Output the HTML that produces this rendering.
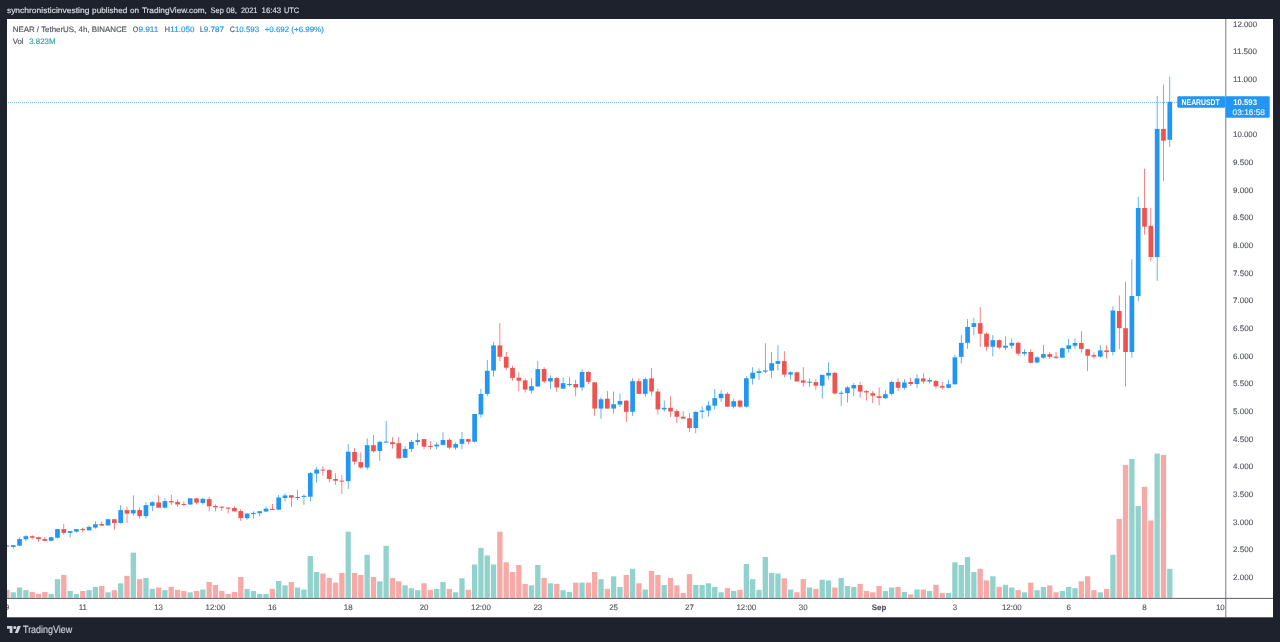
<!DOCTYPE html>
<html><head><meta charset="utf-8"><title>NEAR / TetherUS chart</title>
<style>html,body{margin:0;padding:0;background:#1e222d;}body{width:1280px;height:642px;overflow:hidden;}svg{display:block;}</style></head>
<body>
<svg width="1280" height="642" viewBox="0 0 1280 642" text-rendering="geometricPrecision" font-family='"Liberation Sans", Arial, sans-serif'>
<rect width="1280" height="642" fill="#1e222d"/>
<rect x="7" y="19" width="1266" height="598.3" fill="#ffffff"/>
<defs><clipPath id="cp"><rect x="7" y="19" width="1218.9" height="579.3"/></clipPath><clipPath id="ct"><rect x="7" y="598.3" width="1218.9" height="19.0"/></clipPath></defs>
<g clip-path="url(#cp)" shape-rendering="auto">
<rect x="4.27" y="589.80" width="5.3" height="8.10" fill="#f7a9a7"/>
<rect x="10.59" y="592.30" width="5.3" height="5.60" fill="#92d2cc"/>
<rect x="16.91" y="587.50" width="5.3" height="10.40" fill="#92d2cc"/>
<rect x="23.23" y="590.15" width="5.3" height="7.75" fill="#92d2cc"/>
<rect x="29.55" y="591.90" width="5.3" height="6.00" fill="#f7a9a7"/>
<rect x="35.87" y="593.90" width="5.3" height="4.00" fill="#f7a9a7"/>
<rect x="42.19" y="591.90" width="5.3" height="6.00" fill="#f7a9a7"/>
<rect x="48.51" y="593.90" width="5.3" height="4.00" fill="#92d2cc"/>
<rect x="54.83" y="579.15" width="5.3" height="18.75" fill="#92d2cc"/>
<rect x="61.15" y="575.00" width="5.3" height="22.90" fill="#f7a9a7"/>
<rect x="67.47" y="591.00" width="5.3" height="6.90" fill="#92d2cc"/>
<rect x="73.79" y="593.90" width="5.3" height="4.00" fill="#92d2cc"/>
<rect x="80.11" y="591.00" width="5.3" height="6.90" fill="#f7a9a7"/>
<rect x="86.43" y="590.15" width="5.3" height="7.75" fill="#92d2cc"/>
<rect x="92.75" y="586.90" width="5.3" height="11.00" fill="#92d2cc"/>
<rect x="99.07" y="586.00" width="5.3" height="11.90" fill="#f7a9a7"/>
<rect x="105.39" y="592.30" width="5.3" height="5.60" fill="#92d2cc"/>
<rect x="111.71" y="590.15" width="5.3" height="7.75" fill="#f7a9a7"/>
<rect x="118.03" y="583.30" width="5.3" height="14.60" fill="#92d2cc"/>
<rect x="124.35" y="575.80" width="5.3" height="22.10" fill="#f7a9a7"/>
<rect x="130.67" y="552.65" width="5.3" height="45.25" fill="#92d2cc"/>
<rect x="136.99" y="579.15" width="5.3" height="18.75" fill="#f7a9a7"/>
<rect x="143.31" y="577.90" width="5.3" height="20.00" fill="#92d2cc"/>
<rect x="149.63" y="588.90" width="5.3" height="9.00" fill="#92d2cc"/>
<rect x="155.95" y="587.50" width="5.3" height="10.40" fill="#f7a9a7"/>
<rect x="162.27" y="590.15" width="5.3" height="7.75" fill="#92d2cc"/>
<rect x="168.59" y="586.90" width="5.3" height="11.00" fill="#f7a9a7"/>
<rect x="174.91" y="589.80" width="5.3" height="8.10" fill="#f7a9a7"/>
<rect x="181.23" y="591.00" width="5.3" height="6.90" fill="#f7a9a7"/>
<rect x="187.55" y="592.30" width="5.3" height="5.60" fill="#92d2cc"/>
<rect x="193.87" y="591.00" width="5.3" height="6.90" fill="#f7a9a7"/>
<rect x="200.19" y="589.50" width="5.3" height="8.40" fill="#92d2cc"/>
<rect x="206.51" y="582.00" width="5.3" height="15.90" fill="#f7a9a7"/>
<rect x="212.83" y="585.00" width="5.3" height="12.90" fill="#f7a9a7"/>
<rect x="219.15" y="591.00" width="5.3" height="6.90" fill="#f7a9a7"/>
<rect x="225.47" y="593.90" width="5.3" height="4.00" fill="#f7a9a7"/>
<rect x="231.79" y="591.90" width="5.3" height="6.00" fill="#f7a9a7"/>
<rect x="238.11" y="577.00" width="5.3" height="20.90" fill="#f7a9a7"/>
<rect x="244.43" y="588.90" width="5.3" height="9.00" fill="#92d2cc"/>
<rect x="250.75" y="591.00" width="5.3" height="6.90" fill="#92d2cc"/>
<rect x="257.07" y="593.90" width="5.3" height="4.00" fill="#92d2cc"/>
<rect x="263.39" y="593.90" width="5.3" height="4.00" fill="#92d2cc"/>
<rect x="269.71" y="588.90" width="5.3" height="9.00" fill="#f7a9a7"/>
<rect x="276.03" y="581.00" width="5.3" height="16.90" fill="#92d2cc"/>
<rect x="282.35" y="585.40" width="5.3" height="12.50" fill="#92d2cc"/>
<rect x="288.67" y="582.00" width="5.3" height="15.90" fill="#f7a9a7"/>
<rect x="294.99" y="587.50" width="5.3" height="10.40" fill="#92d2cc"/>
<rect x="301.31" y="589.50" width="5.3" height="8.40" fill="#92d2cc"/>
<rect x="307.63" y="556.00" width="5.3" height="41.90" fill="#92d2cc"/>
<rect x="313.95" y="572.00" width="5.3" height="25.90" fill="#92d2cc"/>
<rect x="320.27" y="573.50" width="5.3" height="24.40" fill="#f7a9a7"/>
<rect x="326.59" y="577.90" width="5.3" height="20.00" fill="#f7a9a7"/>
<rect x="332.91" y="582.65" width="5.3" height="15.25" fill="#f7a9a7"/>
<rect x="339.23" y="572.90" width="5.3" height="25.00" fill="#f7a9a7"/>
<rect x="345.55" y="531.65" width="5.3" height="66.25" fill="#92d2cc"/>
<rect x="351.87" y="572.90" width="5.3" height="25.00" fill="#f7a9a7"/>
<rect x="358.19" y="575.00" width="5.3" height="22.90" fill="#f7a9a7"/>
<rect x="364.51" y="554.80" width="5.3" height="43.10" fill="#92d2cc"/>
<rect x="370.83" y="577.00" width="5.3" height="20.90" fill="#f7a9a7"/>
<rect x="377.15" y="581.30" width="5.3" height="16.60" fill="#92d2cc"/>
<rect x="383.47" y="545.80" width="5.3" height="52.10" fill="#92d2cc"/>
<rect x="389.79" y="577.90" width="5.3" height="20.00" fill="#f7a9a7"/>
<rect x="396.11" y="581.30" width="5.3" height="16.60" fill="#f7a9a7"/>
<rect x="402.43" y="585.40" width="5.3" height="12.50" fill="#92d2cc"/>
<rect x="408.75" y="588.30" width="5.3" height="9.60" fill="#92d2cc"/>
<rect x="415.07" y="590.15" width="5.3" height="7.75" fill="#92d2cc"/>
<rect x="421.39" y="583.30" width="5.3" height="14.60" fill="#f7a9a7"/>
<rect x="427.71" y="589.80" width="5.3" height="8.10" fill="#f7a9a7"/>
<rect x="434.03" y="588.90" width="5.3" height="9.00" fill="#92d2cc"/>
<rect x="440.35" y="582.00" width="5.3" height="15.90" fill="#92d2cc"/>
<rect x="446.67" y="588.90" width="5.3" height="9.00" fill="#f7a9a7"/>
<rect x="452.99" y="592.30" width="5.3" height="5.60" fill="#92d2cc"/>
<rect x="459.31" y="578.30" width="5.3" height="19.60" fill="#92d2cc"/>
<rect x="465.63" y="589.80" width="5.3" height="8.10" fill="#f7a9a7"/>
<rect x="471.95" y="564.50" width="5.3" height="33.40" fill="#92d2cc"/>
<rect x="478.27" y="547.90" width="5.3" height="50.00" fill="#92d2cc"/>
<rect x="484.59" y="555.40" width="5.3" height="42.50" fill="#92d2cc"/>
<rect x="490.91" y="564.50" width="5.3" height="33.40" fill="#92d2cc"/>
<rect x="497.23" y="531.65" width="5.3" height="66.25" fill="#f7a9a7"/>
<rect x="503.55" y="562.30" width="5.3" height="35.60" fill="#f7a9a7"/>
<rect x="509.87" y="572.00" width="5.3" height="25.90" fill="#f7a9a7"/>
<rect x="516.19" y="565.00" width="5.3" height="32.90" fill="#f7a9a7"/>
<rect x="522.51" y="583.90" width="5.3" height="14.00" fill="#f7a9a7"/>
<rect x="528.83" y="585.40" width="5.3" height="12.50" fill="#92d2cc"/>
<rect x="535.15" y="565.00" width="5.3" height="32.90" fill="#92d2cc"/>
<rect x="541.47" y="577.90" width="5.3" height="20.00" fill="#f7a9a7"/>
<rect x="547.79" y="583.30" width="5.3" height="14.60" fill="#92d2cc"/>
<rect x="554.11" y="583.90" width="5.3" height="14.00" fill="#f7a9a7"/>
<rect x="560.43" y="590.15" width="5.3" height="7.75" fill="#92d2cc"/>
<rect x="566.75" y="591.90" width="5.3" height="6.00" fill="#92d2cc"/>
<rect x="573.07" y="582.65" width="5.3" height="15.25" fill="#f7a9a7"/>
<rect x="579.39" y="582.65" width="5.3" height="15.25" fill="#92d2cc"/>
<rect x="585.71" y="582.65" width="5.3" height="15.25" fill="#f7a9a7"/>
<rect x="592.03" y="572.00" width="5.3" height="25.90" fill="#f7a9a7"/>
<rect x="598.35" y="579.15" width="5.3" height="18.75" fill="#92d2cc"/>
<rect x="604.67" y="588.90" width="5.3" height="9.00" fill="#f7a9a7"/>
<rect x="610.99" y="576.30" width="5.3" height="21.60" fill="#92d2cc"/>
<rect x="617.31" y="586.90" width="5.3" height="11.00" fill="#92d2cc"/>
<rect x="623.63" y="575.00" width="5.3" height="22.90" fill="#f7a9a7"/>
<rect x="629.95" y="568.80" width="5.3" height="29.10" fill="#92d2cc"/>
<rect x="636.27" y="583.30" width="5.3" height="14.60" fill="#f7a9a7"/>
<rect x="642.59" y="589.50" width="5.3" height="8.40" fill="#92d2cc"/>
<rect x="648.91" y="571.00" width="5.3" height="26.90" fill="#f7a9a7"/>
<rect x="655.23" y="575.00" width="5.3" height="22.90" fill="#f7a9a7"/>
<rect x="661.55" y="585.00" width="5.3" height="12.90" fill="#92d2cc"/>
<rect x="667.87" y="577.90" width="5.3" height="20.00" fill="#f7a9a7"/>
<rect x="674.19" y="585.40" width="5.3" height="12.50" fill="#f7a9a7"/>
<rect x="680.51" y="592.90" width="5.3" height="5.00" fill="#f7a9a7"/>
<rect x="686.83" y="574.15" width="5.3" height="23.75" fill="#f7a9a7"/>
<rect x="693.15" y="585.00" width="5.3" height="12.90" fill="#92d2cc"/>
<rect x="699.47" y="585.00" width="5.3" height="12.90" fill="#92d2cc"/>
<rect x="705.79" y="583.30" width="5.3" height="14.60" fill="#92d2cc"/>
<rect x="712.11" y="586.90" width="5.3" height="11.00" fill="#92d2cc"/>
<rect x="718.43" y="592.30" width="5.3" height="5.60" fill="#92d2cc"/>
<rect x="724.75" y="588.15" width="5.3" height="9.75" fill="#f7a9a7"/>
<rect x="731.07" y="591.00" width="5.3" height="6.90" fill="#92d2cc"/>
<rect x="737.39" y="589.80" width="5.3" height="8.10" fill="#f7a9a7"/>
<rect x="743.71" y="563.90" width="5.3" height="34.00" fill="#92d2cc"/>
<rect x="750.03" y="579.15" width="5.3" height="18.75" fill="#92d2cc"/>
<rect x="756.35" y="589.80" width="5.3" height="8.10" fill="#92d2cc"/>
<rect x="762.67" y="557.00" width="5.3" height="40.90" fill="#92d2cc"/>
<rect x="768.99" y="572.90" width="5.3" height="25.00" fill="#92d2cc"/>
<rect x="775.31" y="573.50" width="5.3" height="24.40" fill="#92d2cc"/>
<rect x="781.63" y="578.30" width="5.3" height="19.60" fill="#f7a9a7"/>
<rect x="787.95" y="589.50" width="5.3" height="8.40" fill="#92d2cc"/>
<rect x="794.27" y="592.30" width="5.3" height="5.60" fill="#f7a9a7"/>
<rect x="800.59" y="579.15" width="5.3" height="18.75" fill="#f7a9a7"/>
<rect x="806.91" y="587.50" width="5.3" height="10.40" fill="#92d2cc"/>
<rect x="813.23" y="588.90" width="5.3" height="9.00" fill="#f7a9a7"/>
<rect x="819.55" y="579.80" width="5.3" height="18.10" fill="#92d2cc"/>
<rect x="825.87" y="580.40" width="5.3" height="17.50" fill="#92d2cc"/>
<rect x="832.19" y="587.50" width="5.3" height="10.40" fill="#f7a9a7"/>
<rect x="838.51" y="577.90" width="5.3" height="20.00" fill="#92d2cc"/>
<rect x="844.83" y="586.00" width="5.3" height="11.90" fill="#92d2cc"/>
<rect x="851.15" y="586.90" width="5.3" height="11.00" fill="#92d2cc"/>
<rect x="857.47" y="583.90" width="5.3" height="14.00" fill="#f7a9a7"/>
<rect x="863.79" y="591.00" width="5.3" height="6.90" fill="#f7a9a7"/>
<rect x="870.11" y="592.30" width="5.3" height="5.60" fill="#f7a9a7"/>
<rect x="876.43" y="586.00" width="5.3" height="11.90" fill="#f7a9a7"/>
<rect x="882.75" y="591.00" width="5.3" height="6.90" fill="#92d2cc"/>
<rect x="889.07" y="587.50" width="5.3" height="10.40" fill="#92d2cc"/>
<rect x="895.39" y="586.90" width="5.3" height="11.00" fill="#f7a9a7"/>
<rect x="901.71" y="591.90" width="5.3" height="6.00" fill="#92d2cc"/>
<rect x="908.03" y="594.40" width="5.3" height="3.50" fill="#f7a9a7"/>
<rect x="914.35" y="589.50" width="5.3" height="8.40" fill="#92d2cc"/>
<rect x="920.67" y="589.50" width="5.3" height="8.40" fill="#f7a9a7"/>
<rect x="926.99" y="591.00" width="5.3" height="6.90" fill="#92d2cc"/>
<rect x="933.31" y="584.80" width="5.3" height="13.10" fill="#f7a9a7"/>
<rect x="939.63" y="592.90" width="5.3" height="5.00" fill="#f7a9a7"/>
<rect x="945.95" y="592.90" width="5.3" height="5.00" fill="#92d2cc"/>
<rect x="952.27" y="562.30" width="5.3" height="35.60" fill="#92d2cc"/>
<rect x="958.59" y="565.00" width="5.3" height="32.90" fill="#92d2cc"/>
<rect x="964.91" y="557.00" width="5.3" height="40.90" fill="#92d2cc"/>
<rect x="971.23" y="572.00" width="5.3" height="25.90" fill="#92d2cc"/>
<rect x="977.55" y="568.80" width="5.3" height="29.10" fill="#f7a9a7"/>
<rect x="983.87" y="580.40" width="5.3" height="17.50" fill="#f7a9a7"/>
<rect x="990.19" y="576.30" width="5.3" height="21.60" fill="#92d2cc"/>
<rect x="996.51" y="586.90" width="5.3" height="11.00" fill="#f7a9a7"/>
<rect x="1002.83" y="584.80" width="5.3" height="13.10" fill="#92d2cc"/>
<rect x="1009.15" y="587.50" width="5.3" height="10.40" fill="#92d2cc"/>
<rect x="1015.47" y="590.15" width="5.3" height="7.75" fill="#f7a9a7"/>
<rect x="1021.79" y="592.30" width="5.3" height="5.60" fill="#92d2cc"/>
<rect x="1028.11" y="582.65" width="5.3" height="15.25" fill="#f7a9a7"/>
<rect x="1034.43" y="590.15" width="5.3" height="7.75" fill="#92d2cc"/>
<rect x="1040.75" y="586.90" width="5.3" height="11.00" fill="#92d2cc"/>
<rect x="1047.07" y="585.40" width="5.3" height="12.50" fill="#f7a9a7"/>
<rect x="1053.39" y="592.30" width="5.3" height="5.60" fill="#f7a9a7"/>
<rect x="1059.71" y="591.00" width="5.3" height="6.90" fill="#92d2cc"/>
<rect x="1066.03" y="586.90" width="5.3" height="11.00" fill="#92d2cc"/>
<rect x="1072.35" y="588.15" width="5.3" height="9.75" fill="#92d2cc"/>
<rect x="1078.67" y="581.30" width="5.3" height="16.60" fill="#f7a9a7"/>
<rect x="1084.99" y="576.30" width="5.3" height="21.60" fill="#f7a9a7"/>
<rect x="1091.31" y="590.15" width="5.3" height="7.75" fill="#f7a9a7"/>
<rect x="1097.63" y="592.30" width="5.3" height="5.60" fill="#92d2cc"/>
<rect x="1103.95" y="588.90" width="5.3" height="9.00" fill="#f7a9a7"/>
<rect x="1110.27" y="554.80" width="5.3" height="43.10" fill="#92d2cc"/>
<rect x="1116.59" y="518.90" width="5.3" height="79.00" fill="#f7a9a7"/>
<rect x="1122.91" y="465.00" width="5.3" height="132.90" fill="#f7a9a7"/>
<rect x="1129.23" y="459.00" width="5.3" height="138.90" fill="#92d2cc"/>
<rect x="1135.55" y="506.00" width="5.3" height="91.90" fill="#92d2cc"/>
<rect x="1141.87" y="486.80" width="5.3" height="111.10" fill="#f7a9a7"/>
<rect x="1148.19" y="520.50" width="5.3" height="77.40" fill="#f7a9a7"/>
<rect x="1154.51" y="453.50" width="5.3" height="144.40" fill="#92d2cc"/>
<rect x="1160.83" y="454.90" width="5.3" height="143.00" fill="#f7a9a7"/>
<rect x="1167.15" y="568.80" width="5.3" height="29.10" fill="#92d2cc"/>
<line x1="6" y1="102.4" x2="1177" y2="102.4" stroke="#2196f3" stroke-width="0.9" stroke-dasharray="0.75 1.25" opacity="0.95"/>
<rect x="6.57" y="545.66" width="0.7" height="0.81" fill="#ef5350"/>
<rect x="4.57" y="545.56" width="4.7" height="1.00" fill="#ef5350"/>
<rect x="12.89" y="544.84" width="0.7" height="3.86" fill="#2196f3"/>
<rect x="10.89" y="545.15" width="4.7" height="1.73" fill="#2196f3"/>
<rect x="19.21" y="537.53" width="0.7" height="8.33" fill="#2196f3"/>
<rect x="17.21" y="539.06" width="4.7" height="6.60" fill="#2196f3"/>
<rect x="25.53" y="535.20" width="0.7" height="6.09" fill="#2196f3"/>
<rect x="23.53" y="536.21" width="4.7" height="3.05" fill="#2196f3"/>
<rect x="31.85" y="535.20" width="0.7" height="4.06" fill="#ef5350"/>
<rect x="29.85" y="536.21" width="4.7" height="1.52" fill="#ef5350"/>
<rect x="38.17" y="536.72" width="0.7" height="5.08" fill="#ef5350"/>
<rect x="36.17" y="537.23" width="4.7" height="1.83" fill="#ef5350"/>
<rect x="44.49" y="536.72" width="0.7" height="4.57" fill="#ef5350"/>
<rect x="42.49" y="539.06" width="4.7" height="1.73" fill="#ef5350"/>
<rect x="50.81" y="536.92" width="0.7" height="4.37" fill="#2196f3"/>
<rect x="48.81" y="537.23" width="4.7" height="3.55" fill="#2196f3"/>
<rect x="57.13" y="528.90" width="0.7" height="9.65" fill="#2196f3"/>
<rect x="55.13" y="529.10" width="4.7" height="8.63" fill="#2196f3"/>
<rect x="63.45" y="524.02" width="0.7" height="10.87" fill="#ef5350"/>
<rect x="61.45" y="529.10" width="4.7" height="3.76" fill="#ef5350"/>
<rect x="69.77" y="531.13" width="0.7" height="6.40" fill="#2196f3"/>
<rect x="67.77" y="531.13" width="4.7" height="1.73" fill="#2196f3"/>
<rect x="76.09" y="529.10" width="0.7" height="3.55" fill="#2196f3"/>
<rect x="74.09" y="529.10" width="4.7" height="2.54" fill="#2196f3"/>
<rect x="82.41" y="527.58" width="0.7" height="4.57" fill="#ef5350"/>
<rect x="80.41" y="528.90" width="4.7" height="1.22" fill="#ef5350"/>
<rect x="88.73" y="525.55" width="0.7" height="5.08" fill="#2196f3"/>
<rect x="86.73" y="526.87" width="4.7" height="3.45" fill="#2196f3"/>
<rect x="95.05" y="521.28" width="0.7" height="7.31" fill="#2196f3"/>
<rect x="93.05" y="524.23" width="4.7" height="3.35" fill="#2196f3"/>
<rect x="101.37" y="521.28" width="0.7" height="4.77" fill="#ef5350"/>
<rect x="99.37" y="524.02" width="4.7" height="1.52" fill="#ef5350"/>
<rect x="107.69" y="518.95" width="0.7" height="6.80" fill="#2196f3"/>
<rect x="105.69" y="519.25" width="4.7" height="6.09" fill="#2196f3"/>
<rect x="114.01" y="518.95" width="0.7" height="10.66" fill="#ef5350"/>
<rect x="112.01" y="519.25" width="4.7" height="3.76" fill="#ef5350"/>
<rect x="120.33" y="505.23" width="0.7" height="18.28" fill="#2196f3"/>
<rect x="118.33" y="510.11" width="4.7" height="12.90" fill="#2196f3"/>
<rect x="126.65" y="506.76" width="0.7" height="16.25" fill="#ef5350"/>
<rect x="124.65" y="510.11" width="4.7" height="3.45" fill="#ef5350"/>
<rect x="132.97" y="495.31" width="0.7" height="20.31" fill="#2196f3"/>
<rect x="130.97" y="510.04" width="4.7" height="3.35" fill="#2196f3"/>
<rect x="139.29" y="507.50" width="0.7" height="11.17" fill="#ef5350"/>
<rect x="137.29" y="510.04" width="4.7" height="6.09" fill="#ef5350"/>
<rect x="145.61" y="502.22" width="0.7" height="16.45" fill="#2196f3"/>
<rect x="143.61" y="505.16" width="4.7" height="10.97" fill="#2196f3"/>
<rect x="151.93" y="501.20" width="0.7" height="9.85" fill="#2196f3"/>
<rect x="149.93" y="502.22" width="4.7" height="3.55" fill="#2196f3"/>
<rect x="158.25" y="495.31" width="0.7" height="12.39" fill="#ef5350"/>
<rect x="156.25" y="502.42" width="4.7" height="5.28" fill="#ef5350"/>
<rect x="164.57" y="498.36" width="0.7" height="9.95" fill="#2196f3"/>
<rect x="162.57" y="501.10" width="4.7" height="6.60" fill="#2196f3"/>
<rect x="170.89" y="494.80" width="0.7" height="10.16" fill="#ef5350"/>
<rect x="168.89" y="501.10" width="4.7" height="1.32" fill="#ef5350"/>
<rect x="177.21" y="499.17" width="0.7" height="7.82" fill="#ef5350"/>
<rect x="175.21" y="501.91" width="4.7" height="2.54" fill="#ef5350"/>
<rect x="183.53" y="501.20" width="0.7" height="5.28" fill="#ef5350"/>
<rect x="181.53" y="503.95" width="4.7" height="1.02" fill="#ef5350"/>
<rect x="189.85" y="498.16" width="0.7" height="6.80" fill="#2196f3"/>
<rect x="187.85" y="498.36" width="4.7" height="6.09" fill="#2196f3"/>
<rect x="196.17" y="498.16" width="0.7" height="6.30" fill="#ef5350"/>
<rect x="194.17" y="498.36" width="4.7" height="4.27" fill="#ef5350"/>
<rect x="202.49" y="497.55" width="0.7" height="6.91" fill="#2196f3"/>
<rect x="200.49" y="498.87" width="4.7" height="4.06" fill="#2196f3"/>
<rect x="208.81" y="496.84" width="0.7" height="14.52" fill="#ef5350"/>
<rect x="206.81" y="499.07" width="4.7" height="7.21" fill="#ef5350"/>
<rect x="215.13" y="504.45" width="0.7" height="6.91" fill="#ef5350"/>
<rect x="213.13" y="505.98" width="4.7" height="1.32" fill="#ef5350"/>
<rect x="221.45" y="506.48" width="0.7" height="4.27" fill="#ef5350"/>
<rect x="219.45" y="506.69" width="4.7" height="1.02" fill="#ef5350"/>
<rect x="227.77" y="507.50" width="0.7" height="6.09" fill="#ef5350"/>
<rect x="225.77" y="507.61" width="4.7" height="1.00" fill="#ef5350"/>
<rect x="234.09" y="506.28" width="0.7" height="5.28" fill="#ef5350"/>
<rect x="232.09" y="508.01" width="4.7" height="3.35" fill="#ef5350"/>
<rect x="240.41" y="509.02" width="0.7" height="11.88" fill="#ef5350"/>
<rect x="238.41" y="511.06" width="4.7" height="7.11" fill="#ef5350"/>
<rect x="246.73" y="513.09" width="0.7" height="6.60" fill="#2196f3"/>
<rect x="244.73" y="513.59" width="4.7" height="4.57" fill="#2196f3"/>
<rect x="253.05" y="511.36" width="0.7" height="7.11" fill="#2196f3"/>
<rect x="251.05" y="512.88" width="4.7" height="1.22" fill="#2196f3"/>
<rect x="259.37" y="511.21" width="0.7" height="5.08" fill="#2196f3"/>
<rect x="257.37" y="511.21" width="4.7" height="2.03" fill="#2196f3"/>
<rect x="265.69" y="506.44" width="0.7" height="5.48" fill="#2196f3"/>
<rect x="263.69" y="508.67" width="4.7" height="2.84" fill="#2196f3"/>
<rect x="272.01" y="503.80" width="0.7" height="6.09" fill="#ef5350"/>
<rect x="270.01" y="508.88" width="4.7" height="1.02" fill="#ef5350"/>
<rect x="278.33" y="494.96" width="0.7" height="14.73" fill="#2196f3"/>
<rect x="276.33" y="497.50" width="4.7" height="12.19" fill="#2196f3"/>
<rect x="284.65" y="493.44" width="0.7" height="8.13" fill="#2196f3"/>
<rect x="282.65" y="495.47" width="4.7" height="2.54" fill="#2196f3"/>
<rect x="290.97" y="495.27" width="0.7" height="11.88" fill="#ef5350"/>
<rect x="288.97" y="495.27" width="4.7" height="2.44" fill="#ef5350"/>
<rect x="297.29" y="489.88" width="0.7" height="10.46" fill="#2196f3"/>
<rect x="295.29" y="496.99" width="4.7" height="1.02" fill="#2196f3"/>
<rect x="303.61" y="494.25" width="0.7" height="10.56" fill="#2196f3"/>
<rect x="301.61" y="495.88" width="4.7" height="1.00" fill="#2196f3"/>
<rect x="309.93" y="471.91" width="0.7" height="29.66" fill="#2196f3"/>
<rect x="307.93" y="473.13" width="4.7" height="23.56" fill="#2196f3"/>
<rect x="316.25" y="467.23" width="0.7" height="15.54" fill="#2196f3"/>
<rect x="314.25" y="469.57" width="4.7" height="4.06" fill="#2196f3"/>
<rect x="322.57" y="466.22" width="0.7" height="9.45" fill="#ef5350"/>
<rect x="320.57" y="469.57" width="4.7" height="1.02" fill="#ef5350"/>
<rect x="328.89" y="469.06" width="0.7" height="13.41" fill="#ef5350"/>
<rect x="326.89" y="470.08" width="4.7" height="8.94" fill="#ef5350"/>
<rect x="335.21" y="473.13" width="0.7" height="11.68" fill="#ef5350"/>
<rect x="333.21" y="479.02" width="4.7" height="1.73" fill="#ef5350"/>
<rect x="341.53" y="475.16" width="0.7" height="18.79" fill="#ef5350"/>
<rect x="339.53" y="480.60" width="4.7" height="1.00" fill="#ef5350"/>
<rect x="347.85" y="443.90" width="0.7" height="45.00" fill="#2196f3"/>
<rect x="345.85" y="451.70" width="4.7" height="29.40" fill="#2196f3"/>
<rect x="354.17" y="448.23" width="0.7" height="16.45" fill="#ef5350"/>
<rect x="352.17" y="451.99" width="4.7" height="9.65" fill="#ef5350"/>
<rect x="360.49" y="452.30" width="0.7" height="16.45" fill="#ef5350"/>
<rect x="358.49" y="462.15" width="4.7" height="5.38" fill="#ef5350"/>
<rect x="366.81" y="438.28" width="0.7" height="31.48" fill="#2196f3"/>
<rect x="364.81" y="445.19" width="4.7" height="22.34" fill="#2196f3"/>
<rect x="373.13" y="435.03" width="0.7" height="17.67" fill="#ef5350"/>
<rect x="371.13" y="445.19" width="4.7" height="6.09" fill="#ef5350"/>
<rect x="379.45" y="441.33" width="0.7" height="19.50" fill="#2196f3"/>
<rect x="377.45" y="441.84" width="4.7" height="9.14" fill="#2196f3"/>
<rect x="385.77" y="421.02" width="0.7" height="21.53" fill="#2196f3"/>
<rect x="383.77" y="441.53" width="4.7" height="1.02" fill="#2196f3"/>
<rect x="392.09" y="437.06" width="0.7" height="11.58" fill="#ef5350"/>
<rect x="390.09" y="442.14" width="4.7" height="2.03" fill="#ef5350"/>
<rect x="398.41" y="437.06" width="0.7" height="21.33" fill="#ef5350"/>
<rect x="396.41" y="443.16" width="4.7" height="15.23" fill="#ef5350"/>
<rect x="404.73" y="446.20" width="0.7" height="11.88" fill="#2196f3"/>
<rect x="402.73" y="448.95" width="4.7" height="8.84" fill="#2196f3"/>
<rect x="411.05" y="439.80" width="0.7" height="12.19" fill="#2196f3"/>
<rect x="409.05" y="441.84" width="4.7" height="7.11" fill="#2196f3"/>
<rect x="417.37" y="433.20" width="0.7" height="12.39" fill="#2196f3"/>
<rect x="415.37" y="440.11" width="4.7" height="1.93" fill="#2196f3"/>
<rect x="423.69" y="439.09" width="0.7" height="10.16" fill="#ef5350"/>
<rect x="421.69" y="439.09" width="4.7" height="7.52" fill="#ef5350"/>
<rect x="430.01" y="441.13" width="0.7" height="8.33" fill="#ef5350"/>
<rect x="428.01" y="445.91" width="4.7" height="1.00" fill="#ef5350"/>
<rect x="436.33" y="442.34" width="0.7" height="6.91" fill="#2196f3"/>
<rect x="434.33" y="444.68" width="4.7" height="1.73" fill="#2196f3"/>
<rect x="442.65" y="432.19" width="0.7" height="13.20" fill="#2196f3"/>
<rect x="440.65" y="440.01" width="4.7" height="4.88" fill="#2196f3"/>
<rect x="448.97" y="438.48" width="0.7" height="10.77" fill="#ef5350"/>
<rect x="446.97" y="439.80" width="4.7" height="7.82" fill="#ef5350"/>
<rect x="455.29" y="442.55" width="0.7" height="7.11" fill="#2196f3"/>
<rect x="453.29" y="444.07" width="4.7" height="3.55" fill="#2196f3"/>
<rect x="461.61" y="431.98" width="0.7" height="17.27" fill="#2196f3"/>
<rect x="459.61" y="439.09" width="4.7" height="4.77" fill="#2196f3"/>
<rect x="467.93" y="439.13" width="0.7" height="5.28" fill="#ef5350"/>
<rect x="465.93" y="439.13" width="4.7" height="2.54" fill="#ef5350"/>
<rect x="474.25" y="413.95" width="0.7" height="28.44" fill="#2196f3"/>
<rect x="472.25" y="413.95" width="4.7" height="27.73" fill="#2196f3"/>
<rect x="480.57" y="388.86" width="0.7" height="28.84" fill="#2196f3"/>
<rect x="478.57" y="393.94" width="4.7" height="20.52" fill="#2196f3"/>
<rect x="486.89" y="360.10" width="0.7" height="36.10" fill="#2196f3"/>
<rect x="484.89" y="370.80" width="4.7" height="23.10" fill="#2196f3"/>
<rect x="493.21" y="341.84" width="0.7" height="34.84" fill="#2196f3"/>
<rect x="491.21" y="345.39" width="4.7" height="25.19" fill="#2196f3"/>
<rect x="499.53" y="323.05" width="0.7" height="38.09" fill="#ef5350"/>
<rect x="497.53" y="345.39" width="4.7" height="11.38" fill="#ef5350"/>
<rect x="505.85" y="351.99" width="0.7" height="18.28" fill="#ef5350"/>
<rect x="503.85" y="356.77" width="4.7" height="10.97" fill="#ef5350"/>
<rect x="512.17" y="365.70" width="0.7" height="15.03" fill="#ef5350"/>
<rect x="510.17" y="367.94" width="4.7" height="9.95" fill="#ef5350"/>
<rect x="518.49" y="372.30" width="0.7" height="19.00" fill="#ef5350"/>
<rect x="516.49" y="377.70" width="4.7" height="3.00" fill="#ef5350"/>
<rect x="524.81" y="378.40" width="0.7" height="14.20" fill="#ef5350"/>
<rect x="522.81" y="380.40" width="4.7" height="9.20" fill="#ef5350"/>
<rect x="531.13" y="378.10" width="0.7" height="15.50" fill="#2196f3"/>
<rect x="529.13" y="386.20" width="4.7" height="4.40" fill="#2196f3"/>
<rect x="537.45" y="361.10" width="0.7" height="25.70" fill="#2196f3"/>
<rect x="535.45" y="369.10" width="4.7" height="17.40" fill="#2196f3"/>
<rect x="543.77" y="367.23" width="0.7" height="16.25" fill="#ef5350"/>
<rect x="541.77" y="369.06" width="4.7" height="12.39" fill="#ef5350"/>
<rect x="550.09" y="375.40" width="0.7" height="13.50" fill="#2196f3"/>
<rect x="548.09" y="378.10" width="4.7" height="3.30" fill="#2196f3"/>
<rect x="556.41" y="376.90" width="0.7" height="14.70" fill="#ef5350"/>
<rect x="554.41" y="378.10" width="4.7" height="9.40" fill="#ef5350"/>
<rect x="562.73" y="377.40" width="0.7" height="11.50" fill="#2196f3"/>
<rect x="560.73" y="383.20" width="4.7" height="5.40" fill="#2196f3"/>
<rect x="569.05" y="376.90" width="0.7" height="9.60" fill="#2196f3"/>
<rect x="567.05" y="384.00" width="4.7" height="1.00" fill="#2196f3"/>
<rect x="575.37" y="379.70" width="0.7" height="16.70" fill="#ef5350"/>
<rect x="573.37" y="384.00" width="4.7" height="3.50" fill="#ef5350"/>
<rect x="581.69" y="369.30" width="0.7" height="21.50" fill="#2196f3"/>
<rect x="579.69" y="372.00" width="4.7" height="15.50" fill="#2196f3"/>
<rect x="588.01" y="371.30" width="0.7" height="12.70" fill="#ef5350"/>
<rect x="586.01" y="372.00" width="4.7" height="9.80" fill="#ef5350"/>
<rect x="594.33" y="381.98" width="0.7" height="33.72" fill="#ef5350"/>
<rect x="592.33" y="382.39" width="4.7" height="26.20" fill="#ef5350"/>
<rect x="600.65" y="397.22" width="0.7" height="21.53" fill="#2196f3"/>
<rect x="598.65" y="399.25" width="4.7" height="9.34" fill="#2196f3"/>
<rect x="606.97" y="390.82" width="0.7" height="17.77" fill="#ef5350"/>
<rect x="604.97" y="398.74" width="4.7" height="9.85" fill="#ef5350"/>
<rect x="613.29" y="391.53" width="0.7" height="22.14" fill="#2196f3"/>
<rect x="611.29" y="404.23" width="4.7" height="4.37" fill="#2196f3"/>
<rect x="619.61" y="393.56" width="0.7" height="13.51" fill="#2196f3"/>
<rect x="617.61" y="400.98" width="4.7" height="3.55" fill="#2196f3"/>
<rect x="625.93" y="399.96" width="0.7" height="22.04" fill="#ef5350"/>
<rect x="623.93" y="400.67" width="4.7" height="11.17" fill="#ef5350"/>
<rect x="632.25" y="378.33" width="0.7" height="37.38" fill="#2196f3"/>
<rect x="630.25" y="381.17" width="4.7" height="30.67" fill="#2196f3"/>
<rect x="638.57" y="378.33" width="0.7" height="15.54" fill="#ef5350"/>
<rect x="636.57" y="381.17" width="4.7" height="12.70" fill="#ef5350"/>
<rect x="644.89" y="377.31" width="0.7" height="19.60" fill="#2196f3"/>
<rect x="642.89" y="379.14" width="4.7" height="14.73" fill="#2196f3"/>
<rect x="651.21" y="367.97" width="0.7" height="27.63" fill="#ef5350"/>
<rect x="649.21" y="378.33" width="4.7" height="13.20" fill="#ef5350"/>
<rect x="657.53" y="388.79" width="0.7" height="25.70" fill="#ef5350"/>
<rect x="655.53" y="391.53" width="4.7" height="17.88" fill="#ef5350"/>
<rect x="663.85" y="400.47" width="0.7" height="11.17" fill="#2196f3"/>
<rect x="661.85" y="407.78" width="4.7" height="1.63" fill="#2196f3"/>
<rect x="670.17" y="396.20" width="0.7" height="20.72" fill="#ef5350"/>
<rect x="668.17" y="407.78" width="4.7" height="3.66" fill="#ef5350"/>
<rect x="676.49" y="409.10" width="0.7" height="13.71" fill="#ef5350"/>
<rect x="674.49" y="411.13" width="4.7" height="5.59" fill="#ef5350"/>
<rect x="682.81" y="411.13" width="0.7" height="7.62" fill="#ef5350"/>
<rect x="680.81" y="416.72" width="4.7" height="1.83" fill="#ef5350"/>
<rect x="689.13" y="413.16" width="0.7" height="18.59" fill="#ef5350"/>
<rect x="687.13" y="418.24" width="4.7" height="9.85" fill="#ef5350"/>
<rect x="695.45" y="411.44" width="0.7" height="21.73" fill="#2196f3"/>
<rect x="693.45" y="411.84" width="4.7" height="16.25" fill="#2196f3"/>
<rect x="701.77" y="406.28" width="0.7" height="12.39" fill="#2196f3"/>
<rect x="699.77" y="410.55" width="4.7" height="1.22" fill="#2196f3"/>
<rect x="708.09" y="401.20" width="0.7" height="15.44" fill="#2196f3"/>
<rect x="706.09" y="405.47" width="4.7" height="5.08" fill="#2196f3"/>
<rect x="714.41" y="389.02" width="0.7" height="20.52" fill="#2196f3"/>
<rect x="712.41" y="398.16" width="4.7" height="7.52" fill="#2196f3"/>
<rect x="720.73" y="390.23" width="0.7" height="11.68" fill="#2196f3"/>
<rect x="718.73" y="393.79" width="4.7" height="4.37" fill="#2196f3"/>
<rect x="727.05" y="392.27" width="0.7" height="14.42" fill="#ef5350"/>
<rect x="725.05" y="393.79" width="4.7" height="12.90" fill="#ef5350"/>
<rect x="733.37" y="398.56" width="0.7" height="9.95" fill="#2196f3"/>
<rect x="731.37" y="401.20" width="4.7" height="5.48" fill="#2196f3"/>
<rect x="739.69" y="399.58" width="0.7" height="8.43" fill="#ef5350"/>
<rect x="737.69" y="400.59" width="4.7" height="6.09" fill="#ef5350"/>
<rect x="746.01" y="376.22" width="0.7" height="31.28" fill="#2196f3"/>
<rect x="744.01" y="378.25" width="4.7" height="28.44" fill="#2196f3"/>
<rect x="752.33" y="367.22" width="0.7" height="17.27" fill="#2196f3"/>
<rect x="750.33" y="372.70" width="4.7" height="5.89" fill="#2196f3"/>
<rect x="758.65" y="368.44" width="0.7" height="11.38" fill="#2196f3"/>
<rect x="756.65" y="371.28" width="4.7" height="1.73" fill="#2196f3"/>
<rect x="764.97" y="343.25" width="0.7" height="29.76" fill="#2196f3"/>
<rect x="762.97" y="370.47" width="4.7" height="1.22" fill="#2196f3"/>
<rect x="771.29" y="351.98" width="0.7" height="26.10" fill="#2196f3"/>
<rect x="769.29" y="363.16" width="4.7" height="7.52" fill="#2196f3"/>
<rect x="777.61" y="345.28" width="0.7" height="25.39" fill="#2196f3"/>
<rect x="775.61" y="361.13" width="4.7" height="2.74" fill="#2196f3"/>
<rect x="783.93" y="351.17" width="0.7" height="26.20" fill="#ef5350"/>
<rect x="781.93" y="361.13" width="4.7" height="13.41" fill="#ef5350"/>
<rect x="790.25" y="371.28" width="0.7" height="8.33" fill="#2196f3"/>
<rect x="788.25" y="372.30" width="4.7" height="2.23" fill="#2196f3"/>
<rect x="796.57" y="371.48" width="0.7" height="9.95" fill="#ef5350"/>
<rect x="794.57" y="372.30" width="4.7" height="9.14" fill="#ef5350"/>
<rect x="802.89" y="367.22" width="0.7" height="19.50" fill="#ef5350"/>
<rect x="800.89" y="380.42" width="4.7" height="2.23" fill="#ef5350"/>
<rect x="809.21" y="378.39" width="0.7" height="8.53" fill="#2196f3"/>
<rect x="807.21" y="381.75" width="4.7" height="1.00" fill="#2196f3"/>
<rect x="815.53" y="379.10" width="0.7" height="10.66" fill="#ef5350"/>
<rect x="813.53" y="382.15" width="4.7" height="3.55" fill="#ef5350"/>
<rect x="821.85" y="374.88" width="0.7" height="23.66" fill="#2196f3"/>
<rect x="819.85" y="374.88" width="4.7" height="10.87" fill="#2196f3"/>
<rect x="828.17" y="362.19" width="0.7" height="17.27" fill="#2196f3"/>
<rect x="826.17" y="372.85" width="4.7" height="2.74" fill="#2196f3"/>
<rect x="834.49" y="372.14" width="0.7" height="22.34" fill="#ef5350"/>
<rect x="832.49" y="372.85" width="4.7" height="20.62" fill="#ef5350"/>
<rect x="840.81" y="390.83" width="0.7" height="15.23" fill="#2196f3"/>
<rect x="838.81" y="392.77" width="4.7" height="1.00" fill="#2196f3"/>
<rect x="847.13" y="386.06" width="0.7" height="16.55" fill="#2196f3"/>
<rect x="845.13" y="387.38" width="4.7" height="5.79" fill="#2196f3"/>
<rect x="853.45" y="383.01" width="0.7" height="13.20" fill="#2196f3"/>
<rect x="851.45" y="385.04" width="4.7" height="3.35" fill="#2196f3"/>
<rect x="859.77" y="381.99" width="0.7" height="15.54" fill="#ef5350"/>
<rect x="857.77" y="385.04" width="4.7" height="6.60" fill="#ef5350"/>
<rect x="866.09" y="390.12" width="0.7" height="10.46" fill="#ef5350"/>
<rect x="864.09" y="391.13" width="4.7" height="1.32" fill="#ef5350"/>
<rect x="872.41" y="391.13" width="0.7" height="11.88" fill="#ef5350"/>
<rect x="870.41" y="393.16" width="4.7" height="2.54" fill="#ef5350"/>
<rect x="878.73" y="387.38" width="0.7" height="17.98" fill="#ef5350"/>
<rect x="876.73" y="396.21" width="4.7" height="1.73" fill="#ef5350"/>
<rect x="885.05" y="390.12" width="0.7" height="8.63" fill="#2196f3"/>
<rect x="883.05" y="394.18" width="4.7" height="4.06" fill="#2196f3"/>
<rect x="891.37" y="380.47" width="0.7" height="15.03" fill="#2196f3"/>
<rect x="889.37" y="381.99" width="4.7" height="11.88" fill="#2196f3"/>
<rect x="897.69" y="378.44" width="0.7" height="12.70" fill="#ef5350"/>
<rect x="895.69" y="381.99" width="4.7" height="5.79" fill="#ef5350"/>
<rect x="904.01" y="379.25" width="0.7" height="10.36" fill="#2196f3"/>
<rect x="902.01" y="382.50" width="4.7" height="5.28" fill="#2196f3"/>
<rect x="910.33" y="377.63" width="0.7" height="8.43" fill="#ef5350"/>
<rect x="908.33" y="381.99" width="4.7" height="2.03" fill="#ef5350"/>
<rect x="916.65" y="374.17" width="0.7" height="13.61" fill="#2196f3"/>
<rect x="914.65" y="378.44" width="4.7" height="5.59" fill="#2196f3"/>
<rect x="922.97" y="373.36" width="0.7" height="10.36" fill="#ef5350"/>
<rect x="920.97" y="378.44" width="4.7" height="3.05" fill="#ef5350"/>
<rect x="929.29" y="377.63" width="0.7" height="5.89" fill="#2196f3"/>
<rect x="927.29" y="379.96" width="4.7" height="1.52" fill="#2196f3"/>
<rect x="935.61" y="379.66" width="0.7" height="8.94" fill="#ef5350"/>
<rect x="933.61" y="380.98" width="4.7" height="5.38" fill="#ef5350"/>
<rect x="941.93" y="381.99" width="0.7" height="7.41" fill="#ef5350"/>
<rect x="939.93" y="386.06" width="4.7" height="1.52" fill="#ef5350"/>
<rect x="948.25" y="379.69" width="0.7" height="8.63" fill="#2196f3"/>
<rect x="946.25" y="384.26" width="4.7" height="3.55" fill="#2196f3"/>
<rect x="954.57" y="354.80" width="0.7" height="29.96" fill="#2196f3"/>
<rect x="952.57" y="357.34" width="4.7" height="26.91" fill="#2196f3"/>
<rect x="960.89" y="335.04" width="0.7" height="28.44" fill="#2196f3"/>
<rect x="958.89" y="342.86" width="4.7" height="14.02" fill="#2196f3"/>
<rect x="967.21" y="319.09" width="0.7" height="29.66" fill="#2196f3"/>
<rect x="965.21" y="326.91" width="4.7" height="15.95" fill="#2196f3"/>
<rect x="973.53" y="317.77" width="0.7" height="17.57" fill="#2196f3"/>
<rect x="971.53" y="323.16" width="4.7" height="3.76" fill="#2196f3"/>
<rect x="979.85" y="307.11" width="0.7" height="39.61" fill="#ef5350"/>
<rect x="977.85" y="323.16" width="4.7" height="10.56" fill="#ef5350"/>
<rect x="986.17" y="332.30" width="0.7" height="18.48" fill="#ef5350"/>
<rect x="984.17" y="333.72" width="4.7" height="13.00" fill="#ef5350"/>
<rect x="992.49" y="335.04" width="0.7" height="21.33" fill="#2196f3"/>
<rect x="990.49" y="340.12" width="4.7" height="6.60" fill="#2196f3"/>
<rect x="998.81" y="339.41" width="0.7" height="9.85" fill="#ef5350"/>
<rect x="996.81" y="340.12" width="4.7" height="7.41" fill="#ef5350"/>
<rect x="1005.13" y="336.36" width="0.7" height="13.61" fill="#2196f3"/>
<rect x="1003.13" y="345.70" width="4.7" height="2.03" fill="#2196f3"/>
<rect x="1011.45" y="338.39" width="0.7" height="10.36" fill="#2196f3"/>
<rect x="1009.45" y="342.86" width="4.7" height="2.84" fill="#2196f3"/>
<rect x="1017.77" y="341.44" width="0.7" height="14.22" fill="#ef5350"/>
<rect x="1015.77" y="342.86" width="4.7" height="10.77" fill="#ef5350"/>
<rect x="1024.09" y="349.26" width="0.7" height="6.40" fill="#2196f3"/>
<rect x="1022.09" y="352.00" width="4.7" height="1.63" fill="#2196f3"/>
<rect x="1030.41" y="349.26" width="0.7" height="14.22" fill="#ef5350"/>
<rect x="1028.41" y="352.00" width="4.7" height="10.77" fill="#ef5350"/>
<rect x="1036.73" y="356.06" width="0.7" height="7.41" fill="#2196f3"/>
<rect x="1034.73" y="357.38" width="4.7" height="5.08" fill="#2196f3"/>
<rect x="1043.05" y="344.89" width="0.7" height="13.81" fill="#2196f3"/>
<rect x="1041.05" y="354.13" width="4.7" height="3.55" fill="#2196f3"/>
<rect x="1049.37" y="352.00" width="0.7" height="7.11" fill="#ef5350"/>
<rect x="1047.37" y="354.13" width="4.7" height="2.74" fill="#ef5350"/>
<rect x="1055.69" y="352.00" width="0.7" height="6.70" fill="#ef5350"/>
<rect x="1053.69" y="356.67" width="4.7" height="1.22" fill="#ef5350"/>
<rect x="1062.01" y="347.53" width="0.7" height="10.16" fill="#2196f3"/>
<rect x="1060.01" y="348.24" width="4.7" height="9.45" fill="#2196f3"/>
<rect x="1068.33" y="339.07" width="0.7" height="13.55" fill="#2196f3"/>
<rect x="1066.33" y="345.30" width="4.7" height="3.58" fill="#2196f3"/>
<rect x="1074.65" y="338.60" width="0.7" height="10.28" fill="#2196f3"/>
<rect x="1072.65" y="342.96" width="4.7" height="2.80" fill="#2196f3"/>
<rect x="1080.97" y="331.28" width="0.7" height="21.34" fill="#ef5350"/>
<rect x="1078.97" y="342.96" width="4.7" height="5.92" fill="#ef5350"/>
<rect x="1087.29" y="348.88" width="0.7" height="22.12" fill="#ef5350"/>
<rect x="1085.29" y="349.19" width="4.7" height="6.54" fill="#ef5350"/>
<rect x="1093.61" y="352.31" width="0.7" height="6.54" fill="#ef5350"/>
<rect x="1091.61" y="355.11" width="4.7" height="1.56" fill="#ef5350"/>
<rect x="1099.93" y="345.30" width="0.7" height="12.46" fill="#2196f3"/>
<rect x="1097.93" y="350.44" width="4.7" height="6.23" fill="#2196f3"/>
<rect x="1106.25" y="345.30" width="0.7" height="13.24" fill="#ef5350"/>
<rect x="1104.25" y="350.44" width="4.7" height="1.56" fill="#ef5350"/>
<rect x="1112.57" y="306.36" width="0.7" height="49.07" fill="#2196f3"/>
<rect x="1110.57" y="310.56" width="4.7" height="41.43" fill="#2196f3"/>
<rect x="1118.89" y="295.45" width="0.7" height="53.74" fill="#ef5350"/>
<rect x="1116.89" y="311.03" width="4.7" height="17.13" fill="#ef5350"/>
<rect x="1125.21" y="281.90" width="0.7" height="104.70" fill="#ef5350"/>
<rect x="1123.21" y="328.20" width="4.7" height="23.80" fill="#ef5350"/>
<rect x="1131.53" y="259.40" width="0.7" height="98.40" fill="#2196f3"/>
<rect x="1129.53" y="296.00" width="4.7" height="56.00" fill="#2196f3"/>
<rect x="1137.85" y="196.80" width="0.7" height="104.40" fill="#2196f3"/>
<rect x="1135.85" y="208.00" width="4.7" height="88.00" fill="#2196f3"/>
<rect x="1144.17" y="168.70" width="0.7" height="65.90" fill="#ef5350"/>
<rect x="1142.17" y="208.00" width="4.7" height="18.70" fill="#ef5350"/>
<rect x="1150.49" y="208.00" width="0.7" height="53.30" fill="#ef5350"/>
<rect x="1148.49" y="225.80" width="4.7" height="31.20" fill="#ef5350"/>
<rect x="1156.81" y="95.80" width="0.7" height="185.10" fill="#2196f3"/>
<rect x="1154.81" y="128.90" width="4.7" height="128.10" fill="#2196f3"/>
<rect x="1163.13" y="84.60" width="0.7" height="96.30" fill="#ef5350"/>
<rect x="1161.13" y="128.90" width="4.7" height="11.80" fill="#ef5350"/>
<rect x="1169.45" y="76.60" width="0.7" height="70.30" fill="#2196f3"/>
<rect x="1167.45" y="101.80" width="4.7" height="38.00" fill="#2196f3"/>
</g>
<rect x="1225.3" y="19" width="1" height="598.3" fill="#787b85"/>
<rect x="7" y="597.9" width="1266" height="1" fill="#5c5f69"/>
<text x="1233" y="26.80" font-size="7.9" fill="#50535e" stroke="#50535e" stroke-width="0.12" textLength="24.1" lengthAdjust="spacingAndGlyphs">12.000</text>
<text x="1233" y="54.45" font-size="7.9" fill="#50535e" stroke="#50535e" stroke-width="0.12" textLength="24.1" lengthAdjust="spacingAndGlyphs">11.500</text>
<text x="1233" y="82.10" font-size="7.9" fill="#50535e" stroke="#50535e" stroke-width="0.12" textLength="24.1" lengthAdjust="spacingAndGlyphs">11.000</text>
<text x="1233" y="109.75" font-size="7.9" fill="#50535e" stroke="#50535e" stroke-width="0.12" textLength="24.1" lengthAdjust="spacingAndGlyphs">10.500</text>
<text x="1233" y="137.40" font-size="7.9" fill="#50535e" stroke="#50535e" stroke-width="0.12" textLength="24.1" lengthAdjust="spacingAndGlyphs">10.000</text>
<text x="1233" y="165.05" font-size="7.9" fill="#50535e" stroke="#50535e" stroke-width="0.12" textLength="20.1" lengthAdjust="spacingAndGlyphs">9.500</text>
<text x="1233" y="192.70" font-size="7.9" fill="#50535e" stroke="#50535e" stroke-width="0.12" textLength="20.1" lengthAdjust="spacingAndGlyphs">9.000</text>
<text x="1233" y="220.35" font-size="7.9" fill="#50535e" stroke="#50535e" stroke-width="0.12" textLength="20.1" lengthAdjust="spacingAndGlyphs">8.500</text>
<text x="1233" y="248.00" font-size="7.9" fill="#50535e" stroke="#50535e" stroke-width="0.12" textLength="20.1" lengthAdjust="spacingAndGlyphs">8.000</text>
<text x="1233" y="275.65" font-size="7.9" fill="#50535e" stroke="#50535e" stroke-width="0.12" textLength="20.1" lengthAdjust="spacingAndGlyphs">7.500</text>
<text x="1233" y="303.30" font-size="7.9" fill="#50535e" stroke="#50535e" stroke-width="0.12" textLength="20.1" lengthAdjust="spacingAndGlyphs">7.000</text>
<text x="1233" y="330.95" font-size="7.9" fill="#50535e" stroke="#50535e" stroke-width="0.12" textLength="20.1" lengthAdjust="spacingAndGlyphs">6.500</text>
<text x="1233" y="358.60" font-size="7.9" fill="#50535e" stroke="#50535e" stroke-width="0.12" textLength="20.1" lengthAdjust="spacingAndGlyphs">6.000</text>
<text x="1233" y="386.25" font-size="7.9" fill="#50535e" stroke="#50535e" stroke-width="0.12" textLength="20.1" lengthAdjust="spacingAndGlyphs">5.500</text>
<text x="1233" y="413.90" font-size="7.9" fill="#50535e" stroke="#50535e" stroke-width="0.12" textLength="20.1" lengthAdjust="spacingAndGlyphs">5.000</text>
<text x="1233" y="441.55" font-size="7.9" fill="#50535e" stroke="#50535e" stroke-width="0.12" textLength="20.1" lengthAdjust="spacingAndGlyphs">4.500</text>
<text x="1233" y="469.20" font-size="7.9" fill="#50535e" stroke="#50535e" stroke-width="0.12" textLength="20.1" lengthAdjust="spacingAndGlyphs">4.000</text>
<text x="1233" y="496.85" font-size="7.9" fill="#50535e" stroke="#50535e" stroke-width="0.12" textLength="20.1" lengthAdjust="spacingAndGlyphs">3.500</text>
<text x="1233" y="524.50" font-size="7.9" fill="#50535e" stroke="#50535e" stroke-width="0.12" textLength="20.1" lengthAdjust="spacingAndGlyphs">3.000</text>
<text x="1233" y="552.15" font-size="7.9" fill="#50535e" stroke="#50535e" stroke-width="0.12" textLength="20.1" lengthAdjust="spacingAndGlyphs">2.500</text>
<text x="1233" y="579.80" font-size="7.9" fill="#50535e" stroke="#50535e" stroke-width="0.12" textLength="20.1" lengthAdjust="spacingAndGlyphs">2.000</text>
<g clip-path="url(#ct)">
<text x="6.92" y="610.2" font-size="7.9" text-anchor="middle" fill="#50535e" stroke="#50535e" stroke-width="0.12">9</text>
<text x="82.76" y="610.2" font-size="7.9" text-anchor="middle" fill="#50535e" stroke="#50535e" stroke-width="0.12">11</text>
<text x="158.60" y="610.2" font-size="7.9" text-anchor="middle" fill="#50535e" stroke="#50535e" stroke-width="0.12">13</text>
<text x="215.48" y="610.2" font-size="7.9" text-anchor="middle" fill="#50535e" stroke="#50535e" stroke-width="0.12">12:00</text>
<text x="272.36" y="610.2" font-size="7.9" text-anchor="middle" fill="#50535e" stroke="#50535e" stroke-width="0.12">16</text>
<text x="348.20" y="610.2" font-size="7.9" text-anchor="middle" fill="#50535e" stroke="#50535e" stroke-width="0.12">18</text>
<text x="424.04" y="610.2" font-size="7.9" text-anchor="middle" fill="#50535e" stroke="#50535e" stroke-width="0.12">20</text>
<text x="480.92" y="610.2" font-size="7.9" text-anchor="middle" fill="#50535e" stroke="#50535e" stroke-width="0.12">12:00</text>
<text x="537.80" y="610.2" font-size="7.9" text-anchor="middle" fill="#50535e" stroke="#50535e" stroke-width="0.12">23</text>
<text x="613.64" y="610.2" font-size="7.9" text-anchor="middle" fill="#50535e" stroke="#50535e" stroke-width="0.12">25</text>
<text x="689.48" y="610.2" font-size="7.9" text-anchor="middle" fill="#50535e" stroke="#50535e" stroke-width="0.12">27</text>
<text x="746.36" y="610.2" font-size="7.9" text-anchor="middle" fill="#50535e" stroke="#50535e" stroke-width="0.12">12:00</text>
<text x="803.24" y="610.2" font-size="7.9" text-anchor="middle" fill="#50535e" stroke="#50535e" stroke-width="0.12">30</text>
<text x="879.08" y="610.2" font-size="7.9" text-anchor="middle" fill="#50535e" stroke="#50535e" stroke-width="0.12" font-weight="bold">Sep</text>
<text x="954.92" y="610.2" font-size="7.9" text-anchor="middle" fill="#50535e" stroke="#50535e" stroke-width="0.12">3</text>
<text x="1011.80" y="610.2" font-size="7.9" text-anchor="middle" fill="#50535e" stroke="#50535e" stroke-width="0.12">12:00</text>
<text x="1068.68" y="610.2" font-size="7.9" text-anchor="middle" fill="#50535e" stroke="#50535e" stroke-width="0.12">6</text>
<text x="1144.52" y="610.2" font-size="7.9" text-anchor="middle" fill="#50535e" stroke="#50535e" stroke-width="0.12">8</text>
<text x="1220.36" y="610.2" font-size="7.9" text-anchor="middle" fill="#50535e" stroke="#50535e" stroke-width="0.12">10</text>
</g>
<rect x="1177.3" y="96.2" width="47.9" height="11.6" rx="1.2" fill="#2196f3"/>
<text x="1181.6" y="104.9" font-size="8.2" font-weight="bold" fill="#fff" textLength="38.2" lengthAdjust="spacingAndGlyphs">NEARUSDT</text>
<rect x="1225.7" y="96.2" width="44" height="21.5" rx="1.2" fill="#2196f3"/>
<text x="1233.2" y="104.9" font-size="8.2" font-weight="bold" fill="#fff" textLength="23.8" lengthAdjust="spacingAndGlyphs">10.593</text>
<text x="1232.6" y="114.6" font-size="8.2" fill="#fff" fill-opacity="0.88" stroke="#fff" stroke-opacity="0.88" stroke-width="0.15" textLength="32.4" lengthAdjust="spacingAndGlyphs">03:16:58</text>
<text y="13.1" font-size="7.9" fill="#d6d9e0" stroke="#d6d9e0" stroke-width="0.2"><tspan x="6.9" textLength="82.5" lengthAdjust="spacingAndGlyphs">synchronisticinvesting</tspan> <tspan x="92.1" textLength="35.2" lengthAdjust="spacingAndGlyphs">published</tspan> <tspan x="130" textLength="9" lengthAdjust="spacingAndGlyphs">on</tspan> <tspan x="141.9" textLength="65" lengthAdjust="spacingAndGlyphs">TradingView.com,</tspan> <tspan x="210.6" textLength="13.15" lengthAdjust="spacingAndGlyphs">Sep</tspan> <tspan x="226.25" textLength="10.65" lengthAdjust="spacingAndGlyphs">08,</tspan> <tspan x="240.9" textLength="16.6" lengthAdjust="spacingAndGlyphs">2021</tspan> <tspan x="261.6" textLength="19.65" lengthAdjust="spacingAndGlyphs">16:43</tspan> <tspan x="284" textLength="15" lengthAdjust="spacingAndGlyphs">UTC</tspan></text>
<text x="12.7" y="31.9" font-size="7.9" fill="#50535e" stroke="#50535e" stroke-width="0.15" textLength="114.2" lengthAdjust="spacingAndGlyphs">NEAR / TetherUS, 4h, BINANCE</text>
<text x="132.8" y="31.9" font-size="7.9" fill="#50535e" stroke="#50535e" stroke-width="0.15" textLength="5.4" lengthAdjust="spacingAndGlyphs">O</text>
<text x="138.4" y="31.9" font-size="7.9" fill="#2196f3" stroke="#2196f3" stroke-width="0.15" textLength="20" lengthAdjust="spacingAndGlyphs">9.911</text>
<text x="164.7" y="31.9" font-size="7.9" fill="#50535e" stroke="#50535e" stroke-width="0.15" textLength="5.2" lengthAdjust="spacingAndGlyphs">H</text>
<text x="170.3" y="31.9" font-size="7.9" fill="#2196f3" stroke="#2196f3" stroke-width="0.15" textLength="24.1" lengthAdjust="spacingAndGlyphs">11.050</text>
<text x="200" y="31.9" font-size="7.9" fill="#50535e" stroke="#50535e" stroke-width="0.15" textLength="3.6" lengthAdjust="spacingAndGlyphs">L</text>
<text x="203.8" y="31.9" font-size="7.9" fill="#2196f3" stroke="#2196f3" stroke-width="0.15" textLength="20.2" lengthAdjust="spacingAndGlyphs">9.787</text>
<text x="229.7" y="31.9" font-size="7.9" fill="#50535e" stroke="#50535e" stroke-width="0.15" textLength="5" lengthAdjust="spacingAndGlyphs">C</text>
<text x="235" y="31.9" font-size="7.9" fill="#2196f3" stroke="#2196f3" stroke-width="0.15" textLength="24" lengthAdjust="spacingAndGlyphs">10.593</text>
<text x="264.7" y="31.9" font-size="7.9" fill="#2196f3" stroke="#2196f3" stroke-width="0.15" textLength="59.1" lengthAdjust="spacingAndGlyphs">+0.692 (+6.99%)</text>
<text x="12.7" y="43.6" font-size="7.9" fill="#50535e" stroke="#50535e" stroke-width="0.15" textLength="10.9" lengthAdjust="spacingAndGlyphs">Vol</text>
<text x="29.2" y="43.6" font-size="7.9" fill="#26a69a" stroke="#26a69a" stroke-width="0.15" textLength="26.3" lengthAdjust="spacingAndGlyphs">3.823M</text>
<g transform="translate(7,624.35) scale(0.39)" fill="#d1d4dc"><path d="M14 22H7V11H0V4h14v18zM28 22h-8l7.5-18h8L28 22z"/><circle cx="20" cy="8" r="4"/></g>
<text x="23" y="633" font-size="10.4" fill="#d1d4dc" stroke="#d1d4dc" stroke-width="0.15" textLength="49.3" lengthAdjust="spacingAndGlyphs">TradingView</text>
</svg>
</body></html>
